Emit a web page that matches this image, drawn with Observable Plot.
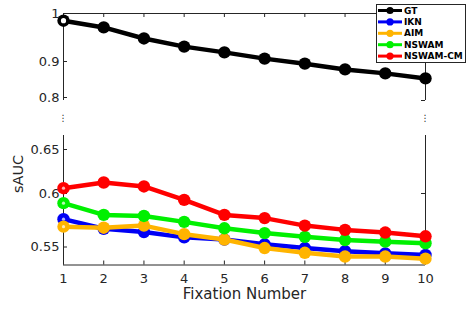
<!DOCTYPE html>
<html><head><meta charset="utf-8">
<script src="https://cdn.jsdelivr.net/npm/d3@7"></script>
<script src="https://cdn.jsdelivr.net/npm/@observablehq/plot@0.6"></script>
<style>
body{margin:0;background:#fff;}
#wrap{position:relative;width:467px;height:320px;font-family:"DejaVu Sans",sans-serif;}
#legend{position:absolute;left:376px;top:4px;}
</style></head><body><div id="wrap"></div>
<script>
const fixations = [1,2,3,4,5,6,7,8,9,10];
const seriesNames = ["GT","IKN","AIM","NSWAM","NSWAM-CM"];
const seriesColors = ["#000000","#0000f5","#ffb400","#00f000","#ff0000"];
const gt      = [0.985,0.971,0.948,0.931,0.919,0.906,0.894,0.878,0.867,0.853];
const ikn     = [0.576,0.567,0.564,0.559,0.557,0.5525,0.549,0.546,0.544,0.5425];
const aim     = [0.569,0.568,0.570,0.562,0.557,0.549,0.5445,0.541,0.541,0.539];
const nswam   = [0.591,0.580,0.579,0.5735,0.5675,0.563,0.5595,0.5565,0.555,0.5535];
const nswamcm = [0.606,0.6125,0.608,0.594,0.580,0.577,0.570,0.566,0.5635,0.560];
const xTicks = [1,2,3,4,5,6,7,8,9,10];
const yTicks = [0.55,0.6,0.65,0.8,0.9,1];
const yTickLabels = ["0.55","0.6","0.65","0.8","0.9","1"];
const rightTicks = [0.6,0.792];
// axis break: bottom panel [0.533, 0.666], top panel [0.792, 1]
const bottomPanel = [0.533,0.666];
const topPanel = [0.792,1];
const breakY = 0.728;

const allSeries = [gt, ikn, aim, nswam, nswamcm];
const ink = "#262626";

const marks = [];
// frame pieces
marks.push(Plot.ruleX([1,10], {x: d=>d, y1: ()=>bottomPanel[0], y2: ()=>bottomPanel[1], stroke: ink}));
marks.push(Plot.ruleX([1,10], {x: d=>d, y1: ()=>topPanel[0], y2: ()=>topPanel[1], stroke: ink}));
marks.push(Plot.ruleY([bottomPanel[0]], {y: d=>d, x1: ()=>1, x2: ()=>10, stroke: ink}));
marks.push(Plot.ruleY([topPanel[1]], {y: d=>d, x1: ()=>1, x2: ()=>10, stroke: ink}));
// inward ticks
marks.push(Plot.ruleX(xTicks, {x: d=>d, y1: ()=>bottomPanel[0], y2: ()=>bottomPanel[0], insetTop: -4, stroke: ink}));
marks.push(Plot.ruleX(xTicks, {x: d=>d, y1: ()=>topPanel[1], y2: ()=>topPanel[1], insetBottom: -4, stroke: ink}));
marks.push(Plot.ruleY(yTicks, {y: d=>d, x1: ()=>1, x2: ()=>1, insetRight: -4, stroke: ink}));
marks.push(Plot.ruleY(rightTicks, {y: d=>d, x1: ()=>10, x2: ()=>10, insetLeft: -4, stroke: ink}));
// break marks
marks.push(Plot.text([1,10], {x: d=>d, y: ()=>breakY, text: ()=>"\u22EE", fontSize: 9, fill: ink, dy: [0,0]}));
// tick labels
marks.push(Plot.axisY(yTicks, {anchor: "left", tickSize: 0, tickPadding: 4, tickFormat: (d,i)=>yTickLabels[yTicks.indexOf(d)], label: null, fontSize: 13, fill: ink}));
marks.push(Plot.axisX(xTicks, {anchor: "bottom", tickSize: 0, tickPadding: 9, tickFormat: d=>String(d), label: null, fontSize: 13, fill: ink}));
// axis titles
marks.push(Plot.text(["Fixation Number"], {frameAnchor: "bottom", dy: 34, text: d=>d, fontSize: 15, fill: ink}));
marks.push(Plot.text(["sAUC"], {frameAnchor: "left", dx: -45, dy: 54, rotate: -90, text: d=>d, fontSize: 14.5, fill: ink}));
// series
allSeries.forEach((vals, k) => {
  const rows = vals.map((v,i)=>({x: fixations[i], y: v, s: seriesNames[k]}));
  marks.push(Plot.line(rows, {x: "x", y: "y", stroke: seriesColors[k], strokeWidth: 4.5}));
  marks.push(Plot.dot(rows, {x: "x", y: "y", r: 6.2, fill: seriesColors[k], stroke: "none"}));
  marks.push(Plot.dot(rows.slice(0,1), {x: "x", y: "y", r: k===0 ? 2.6 : 1.6, fill: "#fff", fillOpacity: k===0 ? 1 : 0.7, stroke: "none"}));
});

const chart = Plot.plot({
  width: 467, height: 320,
  marginLeft: 63, marginRight: 42, marginTop: 13, marginBottom: 56,
  style: {fontFamily: '"DejaVu Sans", sans-serif', background: "#fff", color: ink},
  x: {domain: [1,10], range: [63,425], axis: null},
  y: {type: "linear",
      domain: [0.533,0.55,0.6,0.65,0.666,0.792,0.8,0.9,1],
      range:  [264.5,246.5,193,149,135,100,97,61,13], axis: null},
  marks
});
const wrap = document.getElementById("wrap");
wrap.appendChild(chart);

// legend
const lw = 90, lh = 59;
const leg = d3.create("svg").attr("id","legend").attr("width", lw).attr("height", lh)
  .style("position","absolute").style("left","376px").style("top","4px");
leg.append("rect").attr("x",0.5).attr("y",0.5).attr("width",lw-1).attr("height",lh-1)
  .attr("fill","#fff").attr("stroke",ink);
seriesNames.forEach((name,i)=>{
  const cy = 6.5 + i*11.4;
  const g = leg.append("g");
  g.append("line").attr("x1",2).attr("x2",26).attr("y1",cy).attr("y2",cy).attr("stroke",seriesColors[i]).attr("stroke-width",3);
  g.append("circle").attr("cx",14).attr("cy",cy).attr("r",3.6).attr("fill",seriesColors[i]);
  g.append("text").attr("x",28).attr("y",cy).attr("dy","0.35em").attr("font-size",9).attr("font-weight","bold")
    .attr("font-family",'"DejaVu Sans", sans-serif').attr("fill","#000").text(name);
});
wrap.appendChild(leg.node());
</script>
</body></html>
